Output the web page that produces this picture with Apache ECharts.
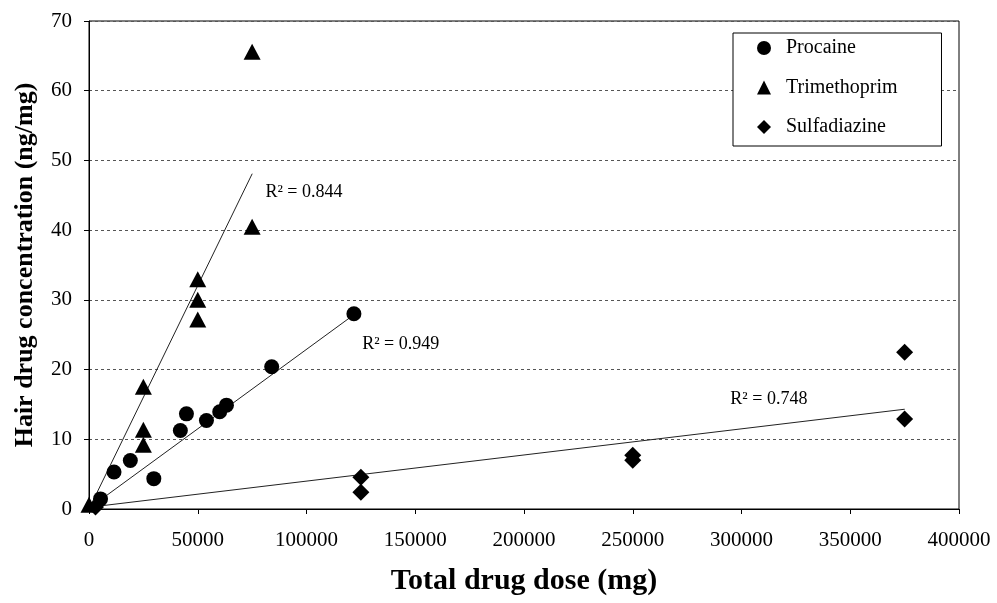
<!DOCTYPE html>
<html>
<head>
<meta charset="utf-8">
<script src="https://cdn.jsdelivr.net/npm/echarts@6/dist/echarts.min.js"></script>
<style>
html,body{margin:0;padding:0;background:#fff;}
#chart{width:997px;height:603px;}
</style>
</head>
<body>
<div id="chart"></div>
<script>
// ---- Data ----
const seriesNames = ['Procaine', 'Trimethoprim', 'Sulfadiazine'];

const procaineDose = [5300, 11500, 19000, 29800, 42000, 44800, 54000, 60100, 63200, 84000, 121800];
const procaineConc = [1.45, 5.3, 6.95, 4.35, 11.25, 13.65, 12.7, 13.95, 14.9, 20.4, 28.0];

const trimethoprimDose = [0, 25000, 25000, 25000, 50000, 50000, 50000, 75000, 75000];
const trimethoprimConc = [0.6, 17.55, 11.35, 9.2, 32.95, 30.0, 27.2, 40.5, 65.6];

const sulfadiazineDose = [3000, 125000, 125000, 250000, 250000, 375000, 375000];
const sulfadiazineConc = [0.3, 4.55, 2.4, 7.7, 7.0, 22.5, 12.9];

// trend lines (slope, intercept) and R² as printed
const trendSlopes = [2.28e-4, 6.41e-4, 3.75e-5];
const trendIntercepts = [0.1, 0.0, 0.25];
const rSquared = ['0.949', '0.844', '0.748'];

const xTicks = [0, 50000, 100000, 150000, 200000, 250000, 300000, 350000, 400000];
const yTicks = [0, 10, 20, 30, 40, 50, 60, 70];

// ---- Build chart ----
const FONT = "'Liberation Serif', 'Times New Roman', serif";
const doses = [procaineDose, trimethoprimDose, sulfadiazineDose];
const concs = [procaineConc, trimethoprimConc, sulfadiazineConc];
const symbols = ['circle', 'triangle', 'diamond'];
const symbolSizes = [15, [17, 16], [17, 17]];
const labelPos = [
  {position: 'right', offset: [3, 30]},
  {position: 'right', offset: [8, 18]},
  {position: 'left', offset: [-92, -10]}
];

const scatterSeries = seriesNames.map((name, i) => ({
  name: name,
  type: 'scatter',
  symbol: symbols[i],
  symbolSize: symbolSizes[i],
  itemStyle: {color: '#000', opacity: 1},
  emphasis: {disabled: true},
  z: 5,
  data: doses[i].map((d, k) => [d, concs[i][k]])
}));

const trendSeries = seriesNames.map((name, i) => {
  const xmin = Math.min.apply(null, doses[i]);
  const xmax = Math.max.apply(null, doses[i]);
  const f = x => trendIntercepts[i] + trendSlopes[i] * x;
  return {
    name: name + ' fit',
    type: 'line',
    symbol: 'circle',
    symbolSize: 0.5,
    itemStyle: {color: '#222'},
    lineStyle: {color: '#222', width: 1},
    z: 3,
    silent: true,
    data: [
      {value: [xmin, f(xmin)]},
      {value: [xmax, f(xmax)],
       label: {
         show: true,
         position: labelPos[i].position,
         offset: labelPos[i].offset,
         formatter: 'R\u00B2 = ' + rSquared[i],
         fontFamily: FONT, fontSize: 18, color: '#000'
       }}
    ]
  };
});

const chart = echarts.init(document.getElementById('chart'), null, {renderer: 'canvas'});
chart.setOption({
  animation: false,
  backgroundColor: '#fff',
  grid: {
    left: 89, right: 38, top: 21, bottom: 94,
    show: true, borderColor: '#000', borderWidth: 1, backgroundColor: 'transparent'
  },
  legend: {
    data: seriesNames.map((n, i) => ({name: n, icon: symbols[i]})),
    orient: 'vertical',
    left: 733, top: 33,
    itemWidth: 14, itemHeight: 14,
    itemGap: 19.5,
    padding: [5, 44, 9, 24],
    backgroundColor: '#fff',
    borderColor: '#000', borderWidth: 1, borderRadius: 0,
    itemStyle: {color: '#000', opacity: 1},
    textStyle: {fontFamily: FONT, fontSize: 20, color: '#000', padding: [0, 0, 0, 10]},
    selectedMode: false
  },
  xAxis: {
    type: 'value',
    min: xTicks[0], max: xTicks[xTicks.length - 1],
    interval: xTicks[1] - xTicks[0],
    name: 'Total drug dose (mg)',
    nameLocation: 'middle',
    nameGap: 57,
    nameTextStyle: {fontFamily: FONT, fontSize: 30, fontWeight: 'bold', color: '#000'},
    axisLine: {show: true, onZero: false, lineStyle: {color: '#000', width: 1}},
    axisTick: {show: true, inside: false, length: 5, lineStyle: {color: '#000'}},
    axisLabel: {fontFamily: FONT, fontSize: 21, color: '#000', margin: 21,
      formatter: v => String(v)},
    splitLine: {show: false}
  },
  yAxis: {
    type: 'value',
    min: yTicks[0], max: yTicks[yTicks.length - 1],
    interval: yTicks[1] - yTicks[0],
    name: 'Hair drug concentration (ng/mg)',
    nameLocation: 'middle',
    nameGap: 51,
    nameRotate: 90,
    nameTextStyle: {fontFamily: FONT, fontSize: 26, fontWeight: 'bold', color: '#000'},
    axisLine: {show: true, lineStyle: {color: '#000', width: 1}},
    axisTick: {show: true, inside: false, length: 5, lineStyle: {color: '#000'}},
    axisLabel: {fontFamily: FONT, fontSize: 21, color: '#000', margin: 17,
      formatter: v => String(v)},
    splitLine: {show: true, lineStyle: {color: '#555', width: 1, type: [3, 3]}}
  },
  series: scatterSeries.concat(trendSeries)
});
</script>
</body>
</html>
